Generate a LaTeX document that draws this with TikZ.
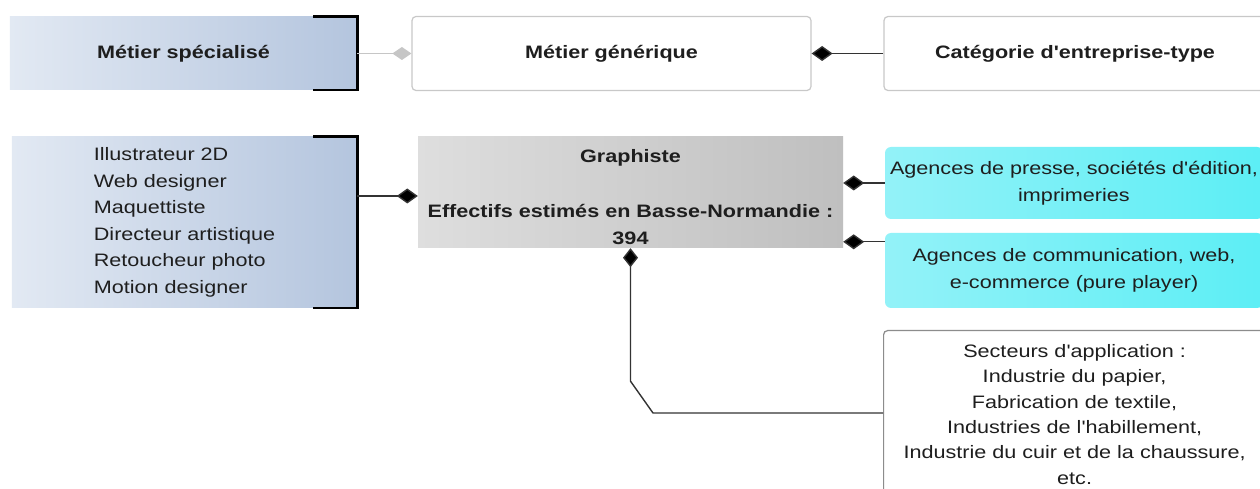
\documentclass[tikz,border=0pt]{standalone}
\usepackage{fontspec}
\setmainfont{Liberation Sans}[FakeStretch=1.2, Ligatures=TeXOff]
\usetikzlibrary{arrows.meta,calc}
\definecolor{txt}{HTML}{1E1E1E}
\definecolor{linec}{HTML}{333333}
\definecolor{lgray}{HTML}{C6C6C6}
\definecolor{bordg}{HTML}{C8C8C8}
\definecolor{blueL}{HTML}{E2E9F3}
\definecolor{blueR}{HTML}{B4C5DE}
\definecolor{grayL}{HTML}{DEDEDE}
\definecolor{grayR}{HTML}{BFBFBF}
\definecolor{cyanL}{HTML}{93F2F8}
\definecolor{cyanR}{HTML}{5CEEF5}
\tikzset{
  base/.style={font=\fontsize{18bp}{26.5bp}\selectfont, text=txt, align=center, inner sep=0pt},
  bluebox/.style={base, left color=blueL, right color=blueR, draw=none},
  whitebox/.style={base, fill=white, draw=bordg, line width=1.2bp, rounded corners=4bp},
  graybox/.style={base, left color=grayL, right color=grayR, draw=none},
  cyanbox/.style={base, left color=cyanL, right color=cyanR, draw=none, rounded corners=6bp},
  bracket/.style={draw=black, line width=2.6bp},
  conn/.style={draw=linec, line width=1.4bp, -{Diamond[length=21bp,width=15bp,fill=black]}},
  vconn/.style={draw=linec, line width=1.4bp, -{Diamond[length=19bp,width=15bp,fill=black]}},
  gconn/.style={draw=lgray, line width=1.4bp, -{Diamond[length=19bp,width=13bp,fill=lgray]}},
}
\begin{document}
\begin{tikzpicture}[x=1bp,y=-1bp]
\useasboundingbox (0,0) rectangle (1260,489);
\clip (0,0) rectangle (1260,489);
\fill[white] (0,0) rectangle (1260,489);

% row 1
\node[bluebox, minimum width=347bp, minimum height=73bp] (spec) at (183.5,53.5) {\bfseries Métier spécialisé};
\node[whitebox, minimum width=399bp, minimum height=74bp] (gen) at (611.5,53.5) {\bfseries Métier générique};
\node[whitebox, minimum width=382bp, minimum height=74bp] (cat) at (1075,53.5) {\bfseries Catégorie d'entreprise-type};

% row 2
\node[bluebox, align=left, minimum width=345bp, minimum height=171bp] (list) at (184.5,222.5)
  {Illustrateur 2D\\Web designer\\Maquettiste\\Directeur artistique\\Retoucheur photo\\Motion designer};
\node[graybox, minimum width=425bp, minimum height=111bp] (graph) at (630.5,192.5)
  {\rule{0pt}{22bp}\bfseries Graphiste\\[29bp]\bfseries Effectifs estimés en Basse-Normandie :\\\bfseries 394};
\node[cyanbox, minimum width=378bp, minimum height=72bp] (c1) at (1074,183)
  {Agences de presse, sociétés d'édition,\\imprimeries};
\node[cyanbox, minimum width=378bp, minimum height=75bp] (c2) at (1074,270.5)
  {Agences de communication, web,\\e-commerce (pure player)};
\node[whitebox, draw={rgb,255:red,140;green,140;blue,140}, anchor=north west, minimum width=382bp, inner ysep=14bp,
      font=\fontsize{18bp}{25.3bp}\selectfont] (sect) at (883,330)
  {Secteurs d'application :\\Industrie du papier,\\Fabrication de textile,\\Industries de l'habillement,\\Industrie du cuir et de la chaussure,\\etc.};

% brackets
\draw[bracket] ([xshift=-44bp]spec.north east) -- (spec.north east) -- (spec.south east) -- ([xshift=-44bp]spec.south east);
\draw[bracket] ([xshift=-44bp]list.north east) -- (list.north east) -- (list.south east) -- ([xshift=-44bp]list.south east);

% connectors
\draw[gconn] (spec.east) -- (gen.west);
\draw[conn] (cat.west) -- (gen.east);
\coordinate (gin) at ($(graph.west)+(0,3.5)$);
\draw[conn] (list.east |- gin) -- (gin);
\draw[conn] (c1.west) -- (graph.east |- c1.west);
\coordinate (c2in) at ($(c2.north west)+(0,9)$);
\draw[conn] (c2in) -- (graph.east |- c2in);
\coordinate (sin) at ($(sect.north west)+(0,83)$);
\coordinate (bend1) at (653,413);
\coordinate (bend2) at ($(graph.south)+(0,133)$);
\draw[vconn] (sin) -- (bend1) -- (bend2) -- (graph.south);
\end{tikzpicture}
\end{document}
